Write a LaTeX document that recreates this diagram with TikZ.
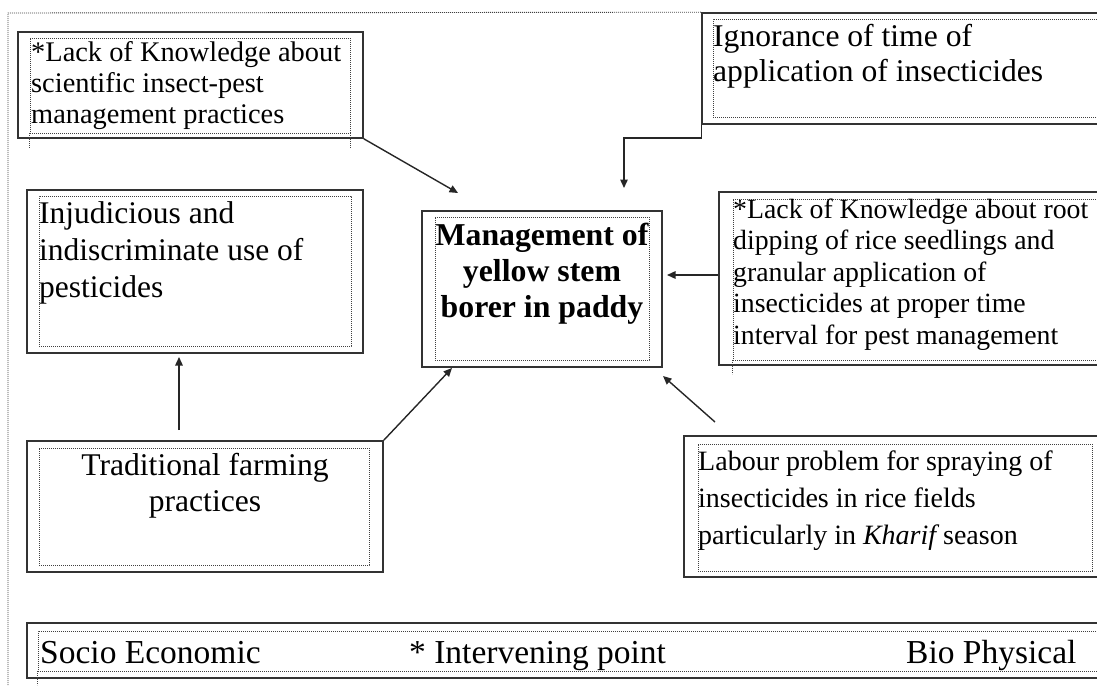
\documentclass[tikz,border=0pt]{standalone}
\usepackage{fontspec}
\setmainfont{Liberation Serif}
\usetikzlibrary{arrows.meta}
\newcommand{\lefttext}[1]{\parbox[t]{14cm}{\raggedright #1}}
\newcommand{\midtext}[1]{\parbox[t]{10cm}{\centering #1}}

\begin{document}
\begin{tikzpicture}[x=1pt,y=-1pt,
  outerbox/.style={draw=black!80, line width=1.6pt, rectangle, inner sep=0pt},
  innerbox/.style={draw=black!75, line width=0.9pt, dash pattern=on 0.9pt off 1.1pt, rectangle, inner sep=0pt},
  dotline/.style={draw=black!75, line width=0.9pt, dash pattern=on 0.9pt off 1.1pt},
  txt/.style={inner sep=0pt, anchor=base west},
  ctxt/.style={inner sep=0pt, anchor=base},
  arr/.style={-{Triangle[length=8.5pt,width=7.5pt]}, line width=1.4pt, black!85}]
\useasboundingbox (0,0) rectangle (1097,685);
\clip (0,0) rectangle (1097,685);
% boxes
\node[outerbox, minimum width=345pt, minimum height=106pt] (tl) at (190.5,85) {};
\node[innerbox, minimum width=320pt, minimum height=95pt] (tlin) at (190,85.5) {};
\node[outerbox, minimum width=408pt, minimum height=111pt] (ign) at (906,68.5) {};
\node[innerbox, minimum width=397pt, minimum height=98pt] (ignin) at (911.5,68) {};
\node[outerbox, minimum width=240pt, minimum height=156pt] (mg) at (542,289) {};
\node[innerbox, minimum width=214pt, minimum height=143pt] (mgin) at (542,288.5) {};
\node[outerbox, minimum width=336pt, minimum height=163pt] (lm) at (195,271.5) {};
\node[innerbox, minimum width=312pt, minimum height=150pt] (lmin) at (195,271) {};
\node[outerbox, minimum width=391pt, minimum height=173pt] (rm) at (914.5,278.5) {};
\node[innerbox, minimum width=377pt, minimum height=161pt] (rmin) at (921.5,279.5) {};
\node[outerbox, minimum width=356pt, minimum height=131pt] (bl) at (205,506.5) {};
\node[innerbox, minimum width=330pt, minimum height=117pt] (blin) at (204,506.5) {};
\node[outerbox, minimum width=426pt, minimum height=141pt] (br) at (897,506.5) {};
\node[innerbox, minimum width=394pt, minimum height=127pt] (brin) at (895,507.5) {};
\node[outerbox, minimum width=1083pt, minimum height=55pt] (bot) at (568.5,650.5) {};
\node[innerbox, minimum width=1072pt, minimum height=40pt] (botin) at (574,651) {};
% frame and loose dotted edges
\draw[dotline] (8,685) -- (8,13) -- (ign.north west);
\draw[dotline] (tlin.south west) -- ++(0,15);
\draw[dotline] (tlin.south east) -- ++(0,15);
\draw[dotline] (rmin.south west) -- ++(0,14);
\draw[dotline] (botin.south west) -- ++(0,14);
% texts
\node[txt, font=\fontsize{28.4}{31}\selectfont] (tltxt) at (31,62) {\lefttext{*Lack of Knowledge about\\ scientific insect-pest\\ management practices}};
\node[txt, font=\fontsize{31.6}{34.5}\selectfont] (igntxt) at (713,47) {\lefttext{Ignorance of time of\\ application of insecticides}};
\node[ctxt, font=\fontsize{31.8}{36.3}\selectfont\bfseries] (mgtxt) at (542,245) {\midtext{Management of\\ yellow stem\\ borer in paddy}};
\node[txt, font=\fontsize{31.5}{37}\selectfont] (lmtxt) at (39,223) {\lefttext{Injudicious and\\ indiscriminate use of\\ pesticides}};
\node[txt, font=\fontsize{27.8}{31.5}\selectfont] (rmtxt) at (733,218) {\lefttext{*Lack of Knowledge about root\\ dipping of rice seedlings and\\ granular application of\\ insecticides at proper time\\ interval for pest management}};
\node[ctxt, font=\fontsize{31.6}{36}\selectfont] (bltxt) at (205,475) {\midtext{Traditional farming\\ practices}};
\node[txt, font=\fontsize{28}{37}\selectfont] (brtxt) at (698,470) {\lefttext{Labour problem for spraying of\\ insecticides in rice fields\\ particularly in {\itshape Kharif} season}};
\node[txt, font=\fontsize{33.5}{36}\selectfont] (socio) at (40,663) {Socio Economic};
\node[txt, font=\fontsize{33.5}{36}\selectfont] (interv) at (409,663) {* Intervening point};
\node[txt, font=\fontsize{33.5}{36}\selectfont] (bio) at (906,663) {Bio Physical};
% arrows
\coordinate (tltip) at (458,193);
\draw[arr] (tl.south east) -- (tltip);
\coordinate (igntip) at (624,188);
\draw[arr] (ign.south west) -- ++(0,13) -| (igntip);
\coordinate (rmtip) at (667,275);
\draw[arr] (rm.west |- rmtip) -- (rmtip);
\coordinate (brtail) at (715,422);
\coordinate (brtip) at (663,376);
\draw[arr] (brtail) -- (brtip);
\coordinate (bltip) at (452,368);
\draw[arr] (bl.north east) -- (bltip);
\coordinate (bltail) at (179,430);
\coordinate (lmtip) at (179,357);
\draw[arr] (bltail) -- (lmtip);
\end{tikzpicture}
\end{document}
